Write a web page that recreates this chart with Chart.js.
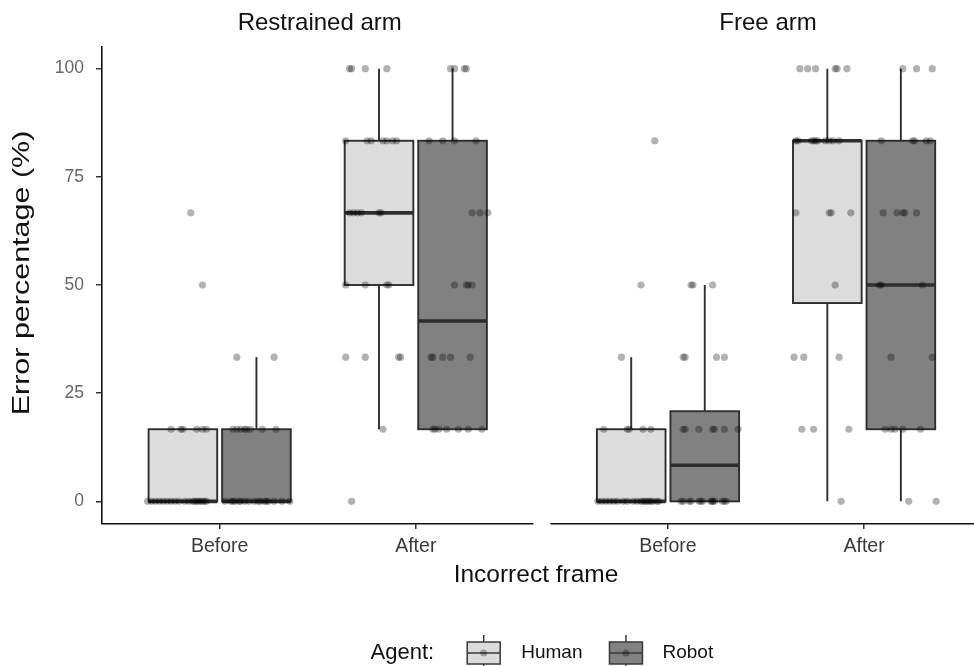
<!DOCTYPE html>
<html>
<head>
<meta charset="utf-8">
<script src="https://cdn.jsdelivr.net/npm/chart.js@4.4.1/dist/chart.umd.min.js"></script>
<style>
  html, body { margin: 0; padding: 0; background: #fff; }
</style>
</head>
<body>
<canvas id="chart" width="974" height="666"></canvas>
<script>
const panels = ['Restrained arm', 'Free arm'];
const frames = ['Before', 'After'];
const agents = ['Human', 'Robot'];
const yTicks = [0, 25, 50, 75, 100];
const yTitle = 'Error percentage (%)';

// box stats, order: Restrained Before H/R, Restrained After H/R, Free Before H/R, Free After H/R
const boxLow    = [0, 0, 16.67, 16.67, 0, 0, 0, 0];
const boxQ1     = [0, 0, 50, 16.67, 0, 0, 45.83, 16.67];
const boxMedian = [0, 0, 66.67, 41.67, 0, 8.33, 83.33, 50];
const boxQ3     = [16.67, 16.67, 83.33, 83.33, 16.67, 20.83, 83.33, 83.33];
const boxHigh   = [16.67, 33.33, 100, 100, 33.33, 50, 100, 100];

// participant scores and their horizontal jitter (category units)
const rbHumanScore = [66.67, 50, 16.67, 16.67, 16.67, 16.67, 16.67, 16.67,
  0, 0, 0, 0, 0, 0, 0, 0, 0, 0, 0, 0, 0, 0, 0, 0, 0, 0, 0];
const rbHumanJitter = [0.04, 0.10, -0.06, -0.01, 0.00, 0.07, 0.10, 0.12,
  -0.18, -0.16, -0.14, -0.12, -0.10, -0.08, -0.06, -0.04, -0.02, 0.01, 0.03, 0.05, 0.06, 0.07, 0.08, 0.09, 0.10, 0.11, 0.12];

const rbRobotScore = [33.33, 33.33, 16.67, 16.67, 16.67, 16.67, 16.67, 16.67, 16.67, 16.67,
  0, 0, 0, 0, 0, 0, 0, 0, 0, 0, 0, 0, 0, 0, 0, 0, 0];
const rbRobotJitter = [-0.10, 0.09, -0.12, -0.10, -0.08, -0.06, -0.05, -0.03, 0.03, 0.10,
  -0.16, -0.13, -0.12, -0.11, -0.09, -0.08, -0.06, -0.04, -0.01, 0.01, 0.02, 0.04, 0.05, 0.06, 0.09, 0.13, 0.17];

const raHumanScore = [100, 100, 100, 100, 83.33, 83.33, 83.33, 83.33, 83.33, 83.33, 83.33,
  66.67, 66.67, 66.67, 66.67, 66.67, 66.67, 50, 50, 50, 50, 33.33, 33.33, 33.33, 33.33, 16.67, 0];
const raHumanJitter = [-0.15, -0.14, -0.07, 0.04, -0.17, -0.06, -0.04, 0.02, 0.04, 0.07, 0.09,
  -0.15, -0.13, -0.11, -0.09, 0.00, 0.01, -0.17, -0.07, 0.04, 0.05, -0.17, -0.07, 0.10, 0.11, 0.02, -0.14];

const raRobotScore = [100, 100, 100, 100, 83.33, 83.33, 83.33, 83.33, 66.67, 66.67, 66.67,
  50, 50, 50, 50, 33.33, 33.33, 33.33, 33.33, 33.33,
  16.67, 16.67, 16.67, 16.67, 16.67, 16.67, 16.67];
const raRobotJitter = [-0.01, 0.01, 0.06, 0.07, -0.12, -0.05, 0.01, 0.12, 0.10, 0.14, 0.18,
  0.01, 0.07, 0.08, 0.10, -0.11, -0.10, -0.05, -0.01, 0.09,
  -0.10, -0.09, -0.07, -0.03, 0.03, 0.08, 0.15];

const fbHumanScore = [83.33, 50, 33.33, 16.67, 16.67, 16.67, 16.67, 16.67,
  0, 0, 0, 0, 0, 0, 0, 0, 0, 0, 0, 0, 0, 0, 0, 0, 0, 0, 0];
const fbHumanJitter = [0.12, 0.05, -0.05, -0.14, -0.02, -0.01, 0.06, 0.10,
  -0.17, -0.15, -0.13, -0.11, -0.09, -0.07, -0.04, -0.02, 0.01, 0.03, 0.05, 0.06, 0.07, 0.08, 0.09, 0.10, 0.11, 0.13, 0.14];

const fbRobotScore = [50, 50, 50, 33.33, 33.33, 33.33, 33.33,
  16.67, 16.67, 16.67, 16.67, 16.67, 16.67, 16.67,
  0, 0, 0, 0, 0, 0, 0, 0, 0, 0, 0, 0, 0, 0];
const fbRobotJitter = [-0.07, -0.06, 0.04, -0.11, -0.10, 0.06, 0.10,
  -0.11, -0.10, -0.03, 0.04, 0.05, 0.10, 0.17,
  -0.12, -0.11, -0.08, -0.07, -0.03, -0.02, -0.01, 0.03, 0.04, 0.04, 0.05, 0.09, 0.10, 0.11];

const faHumanScore = [100, 100, 100, 100, 100, 100,
  83.33, 83.33, 83.33, 83.33, 83.33, 83.33, 83.33, 83.33, 83.33, 83.33,
  66.67, 66.67, 66.67, 66.67, 50, 33.33, 33.33, 33.33, 16.67, 16.67, 16.67, 0];
const faHumanJitter = [-0.14, -0.10, -0.06, 0.04, 0.05, 0.10,
  -0.16, -0.15, -0.08, -0.07, -0.06, -0.05, -0.01, 0.01, 0.03, 0.06,
  -0.16, 0.01, 0.02, 0.12, 0.04, -0.17, -0.12, 0.06, -0.13, -0.07, 0.11, 0.07];

const faRobotScore = [100, 100, 100, 83.33, 83.33, 83.33, 83.33, 83.33,
  66.67, 66.67, 66.67, 66.67, 66.67, 50, 50, 50, 33.33, 33.33,
  16.67, 16.67, 16.67, 16.67, 16.67, 0, 0];
const faRobotJitter = [0.01, 0.08, 0.16, -0.10, 0.06, 0.07, 0.13, 0.15,
  -0.09, -0.02, 0.01, 0.02, 0.08, -0.11, -0.10, 0.11, -0.05, 0.16,
  -0.08, -0.05, -0.03, 0.01, 0.10, 0.04, 0.18];

const groupScores = [rbHumanScore, rbRobotScore, raHumanScore, raRobotScore,
  fbHumanScore, fbRobotScore, faHumanScore, faRobotScore];
const groupJitter = [rbHumanJitter, rbRobotJitter, raHumanJitter, raRobotJitter,
  fbHumanJitter, fbRobotJitter, faHumanJitter, faRobotJitter];

// layout of the two facets on one linear x scale
const PANEL_W = 2.2;
const PANEL_GAP = 0.086;
const X_MIN = 0.4;
const X_MAX = 4.826;
const DODGE = 0.1875;
const BOX_W = 0.35;
const catPos = [1, 2, 1 + PANEL_W + PANEL_GAP, 2 + PANEL_W + PANEL_GAP];
const fills = ['#dcdcdc', '#818181'];
const FONT = '"Liberation Sans", Arial, sans-serif';

function groupCenter(g) {
  return catPos[Math.floor(g / 2)] + (g % 2 ? DODGE : -DODGE);
}

const pointSets = [[], []];
groupScores.forEach((scores, g) => {
  scores.forEach((v, i) => {
    pointSets[g % 2].push({ x: groupCenter(g) + groupJitter[g][i], y: v });
  });
});

function drawKey(ctx, cx, cy, fill) {
  ctx.save();
  ctx.strokeStyle = '#3a3a3a';
  ctx.lineWidth = 1.5;
  ctx.beginPath();
  ctx.moveTo(cx, cy - 18); ctx.lineTo(cx, cy - 11);
  ctx.moveTo(cx, cy + 11); ctx.lineTo(cx, cy + 18);
  ctx.stroke();
  ctx.fillStyle = fill;
  ctx.fillRect(cx - 16.5, cy - 11, 33, 22);
  ctx.strokeRect(cx - 16.5, cy - 11, 33, 22);
  ctx.beginPath();
  ctx.moveTo(cx - 16.5, cy); ctx.lineTo(cx + 16.5, cy);
  ctx.stroke();
  ctx.fillStyle = 'rgba(0,0,0,0.3)';
  ctx.beginPath();
  ctx.arc(cx, cy, 3.5, 0, Math.PI * 2);
  ctx.fill();
  ctx.restore();
}

const facetPlugin = {
  id: 'facets',
  beforeDatasetsDraw(chart) {
    const { ctx, scales: { x, y } } = chart;
    ctx.save();
    ctx.strokeStyle = '#2e2e2e';
    for (let g = 0; g < boxQ1.length; g++) {
      const c = groupCenter(g);
      const cx = x.getPixelForValue(c);
      const l = x.getPixelForValue(c - BOX_W / 2);
      const r = x.getPixelForValue(c + BOX_W / 2);
      const top = y.getPixelForValue(boxQ3[g]);
      const bot = y.getPixelForValue(boxQ1[g]);
      ctx.lineWidth = 1.9;
      ctx.beginPath();
      ctx.moveTo(cx, y.getPixelForValue(boxHigh[g])); ctx.lineTo(cx, top);
      ctx.moveTo(cx, bot); ctx.lineTo(cx, y.getPixelForValue(boxLow[g]));
      ctx.stroke();
      ctx.fillStyle = fills[g % 2];
      ctx.fillRect(l, top, r - l, bot - top);
      ctx.strokeRect(l, top, r - l, bot - top);
      const m = y.getPixelForValue(boxMedian[g]);
      ctx.lineWidth = 3.6;
      ctx.beginPath();
      ctx.moveTo(l, m); ctx.lineTo(r, m);
      ctx.stroke();
    }
    ctx.restore();
  },
  afterDraw(chart) {
    const { ctx, chartArea, scales: { x } } = chart;
    ctx.save();
    // split x axis line, one per facet
    ctx.strokeStyle = '#111';
    ctx.lineWidth = 1.6;
    const yb = chartArea.bottom + 0.8;
    panels.forEach((name, p) => {
      const start = X_MIN + p * (PANEL_W + PANEL_GAP);
      const a = x.getPixelForValue(start);
      const b = x.getPixelForValue(start + PANEL_W);
      ctx.beginPath();
      ctx.moveTo(p === 0 ? a - 1 : a, yb); ctx.lineTo(b, yb);
      ctx.stroke();
      ctx.fillStyle = '#111';
      ctx.font = '24px ' + FONT;
      ctx.textAlign = 'center';
      ctx.textBaseline = 'middle';
      ctx.fillText(name, (a + b) / 2 + 2, 23);
    });

    // y axis title, drawn a little stretched along its length like the original
    ctx.save();
    ctx.translate(22, (chartArea.top + chartArea.bottom) / 2 - 12);
    ctx.rotate(-Math.PI / 2);
    ctx.scale(1.27, 1);
    ctx.font = '24px ' + FONT;
    ctx.textAlign = 'center';
    ctx.textBaseline = 'middle';
    ctx.fillStyle = '#111';
    ctx.fillText(yTitle, 0, 0);
    ctx.restore();

    // legend
    const ly = 653;
    ctx.font = '22px ' + FONT;
    const wTitle = ctx.measureText('Agent:').width;
    ctx.font = '19px ' + FONT;
    const wLab = agents.map(a => ctx.measureText(a).width);
    const total = wTitle + 33 + (33 + 21 + wLab[0]) + 27 + (33 + 20 + wLab[1]);
    const mid = (x.getPixelForValue(X_MIN) + x.getPixelForValue(X_MIN + 2 * PANEL_W + PANEL_GAP)) / 2;
    let cur = mid - total / 2;
    ctx.textAlign = 'left';
    ctx.textBaseline = 'middle';
    ctx.fillStyle = '#111';
    ctx.font = '22px ' + FONT;
    ctx.fillText('Agent:', cur, ly);
    cur += wTitle + 33;
    agents.forEach((a, i) => {
      drawKey(ctx, cur + 16.5, ly, fills[i]);
      cur += 33 + (i === 0 ? 21 : 20);
      ctx.font = '19px ' + FONT;
      ctx.fillStyle = '#111';
      ctx.fillText(a, cur, ly);
      cur += wLab[i] + 27;
    });
    ctx.restore();
  }
};

const ctx = document.getElementById('chart').getContext('2d');
new Chart(ctx, {
  type: 'scatter',
  data: {
    datasets: agents.map((a, i) => ({
      label: a,
      data: pointSets[i],
      pointRadius: 3.6,
      pointBorderWidth: 0,
      pointBackgroundColor: 'rgba(0,0,0,0.3)',
      pointBorderColor: 'rgba(0,0,0,0)'
    }))
  },
  options: {
    responsive: false,
    animation: false,
    layout: { padding: { top: 47, bottom: 76, left: 0, right: 0 } },
    plugins: { legend: { display: false }, tooltip: { enabled: false } },
    scales: {
      x: {
        type: 'linear',
        min: X_MIN,
        max: X_MAX,
        afterBuildTicks: s => { s.ticks = catPos.map(v => ({ value: v })); },
        afterFit: s => { s.height = 67; },
        ticks: {
          autoSkip: false,
          maxRotation: 0,
          padding: 6,
          color: '#3b3b3b',
          font: { family: FONT, size: 19.5 },
          callback: (v, i) => frames[i % frames.length]
        },
        grid: { display: true, drawOnChartArea: false, drawTicks: true, tickLength: 6, color: '#333', lineWidth: 1.5 },
        border: { display: false },
        title: { display: true, text: 'Incorrect frame', color: '#111', padding: 0, font: { family: FONT, size: 24.5 } }
      },
      y: {
        min: -5,
        max: 105,
        afterBuildTicks: s => { s.ticks = yTicks.map(v => ({ value: v })); },
        afterFit: s => { s.width = 102; },
        ticks: { padding: 12, color: '#666', font: { family: FONT, size: 17.5 } },
        grid: { display: true, drawOnChartArea: false, drawTicks: true, tickLength: 6, color: '#333', lineWidth: 1.5 },
        border: { display: true, color: '#111', width: 1.6 },
        title: { display: false }
      }
    }
  },
  plugins: [facetPlugin]
});
</script>
</body>
</html>
